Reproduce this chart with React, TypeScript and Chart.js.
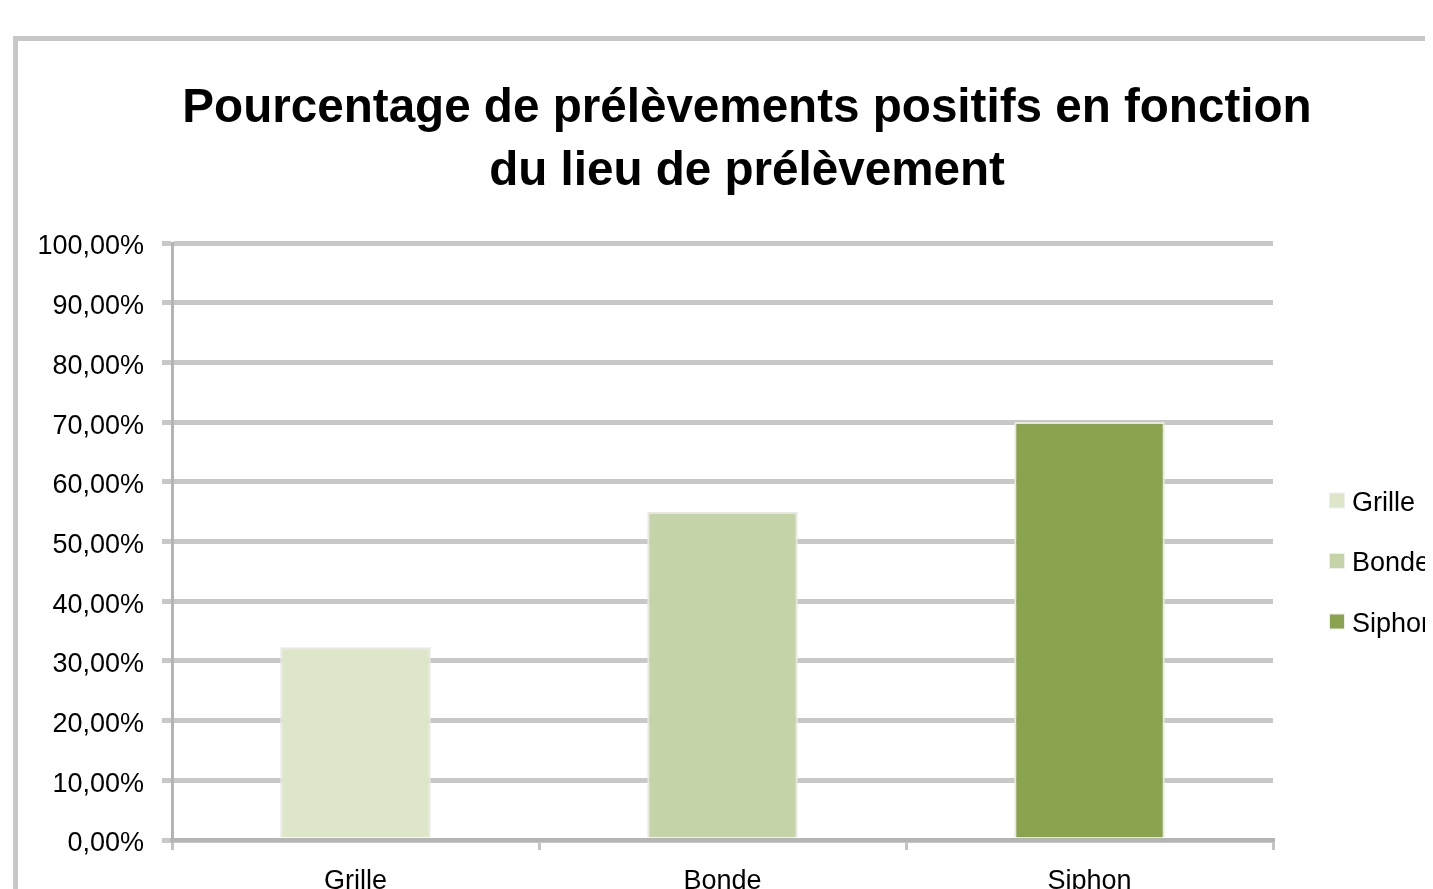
import React, { useEffect, useRef } from 'react';
import { Chart, registerables } from 'chart.js';

Chart.register(...registerables);

const categories = ['Grille', 'Bonde', 'Siphon'];
const values = [32.3, 55.0, 70.0];
const barColors = ['#dee6c9', '#c4d4a8', '#8aa34e'];
const titleLines = ['Pourcentage de prélèvements positifs en fonction', 'du lieu de prélèvement'];
const yMin = 0;
const yMax = 100;
const yStep = 10;

const FONT = '"Liberation Sans", Arial, sans-serif';
const fmt = (v: number) => v.toFixed(2).replace('.', ',') + '%';

export default function App() {
  const ref = useRef<HTMLCanvasElement>(null);

  useEffect(() => {
    if (!ref.current) return;

    const framePlugin = {
      id: 'frame',
      beforeDraw(chart: any) {
        const ctx = chart.ctx;
        ctx.save();
        ctx.fillStyle = '#ffffff';
        ctx.fillRect(0, 0, chart.width, chart.height);
        ctx.strokeStyle = '#c8c8c8';
        ctx.lineWidth = 5;
        ctx.strokeRect(7.5, 30.5, chart.width + 40, chart.height + 40);
        ctx.restore();
      },
    };

    const sideLegend = {
      id: 'sideLegend',
      afterDraw(chart: any) {
        const { ctx, chartArea } = chart;
        const x = chartArea.right + 57;
        const mid = (chartArea.top + chartArea.bottom) / 2 + 22.5;
        ctx.save();
        ctx.font = `27px ${FONT}`;
        ctx.textBaseline = 'middle';
        ctx.textAlign = 'left';
        categories.forEach((c, i) => {
          const y = mid + (i - (categories.length - 1) / 2) * 60.5;
          ctx.fillStyle = '#eeeeee';
          ctx.fillRect(x - 1, y - 11, 16, 16);
          ctx.fillStyle = barColors[i];
          ctx.fillRect(x, y - 10, 14, 14);
          ctx.fillStyle = '#000000';
          ctx.fillText(c, x + 22, y);
        });
        ctx.restore();
      },
    };

    const chart = new Chart(ref.current, {
      type: 'bar',
      data: {
        labels: categories,
        datasets: [
          {
            label: 'Pourcentage',
            data: values,
            backgroundColor: barColors,
            borderColor: '#e8e8e3',
            borderWidth: 2,
            barPercentage: 0.41,
            categoryPercentage: 1,
          },
        ],
      },
      options: {
        responsive: false,
        animation: false,
        devicePixelRatio: 1,
        layout: { padding: 0 },
        plugins: {
          legend: { display: false },
          tooltip: { enabled: false },
          title: {
            display: true,
            text: titleLines,
            color: '#000000',
            font: { family: FONT, size: 47.6, weight: 'bold', lineHeight: 63 / 47.6 },
            padding: { top: 69, bottom: 40 },
          },
        },
        scales: {
          x: {
            grid: {
              display: true,
              drawOnChartArea: false,
              drawTicks: true,
              tickLength: 10,
              color: '#c4c4c4',
              lineWidth: 3,
              offset: true,
            },
            border: { display: true, color: '#b4b4b4', width: 4 },
            ticks: {
              color: '#000000',
              font: { family: FONT, size: 27 },
              padding: 15,
            },
            afterFit(scale: any) {
              scale.height = 68;
            },
          },
          y: {
            min: yMin,
            max: yMax,
            ticks: {
              stepSize: yStep,
              callback: (v: any) => fmt(Number(v)),
              color: '#000000',
              font: { family: FONT, size: 27 },
              padding: 18,
              labelOffset: 4,
            },
            grid: { color: '#c8c8c8', lineWidth: 5, tickLength: 10, drawTicks: true },
            border: { display: true, color: '#b4b4b4', width: 3 },
            afterFit(scale: any) {
              scale.width = 164;
            },
          },
          legendSpace: {
            type: 'linear',
            position: 'right',
            display: true,
            grid: { display: false, drawTicks: false },
            border: { display: false },
            ticks: { display: false },
            afterFit(scale: any) {
              scale.width = 213;
            },
          },
        },
      },
      plugins: [framePlugin, sideLegend],
    });

    return () => chart.destroy();
  }, []);

  return (
    <div style={{ width: 1425, height: 881, overflow: 'hidden', position: 'relative' }}>
      <canvas ref={ref} width={1478} height={900} style={{ display: 'block' }} />
    </div>
  );
}
